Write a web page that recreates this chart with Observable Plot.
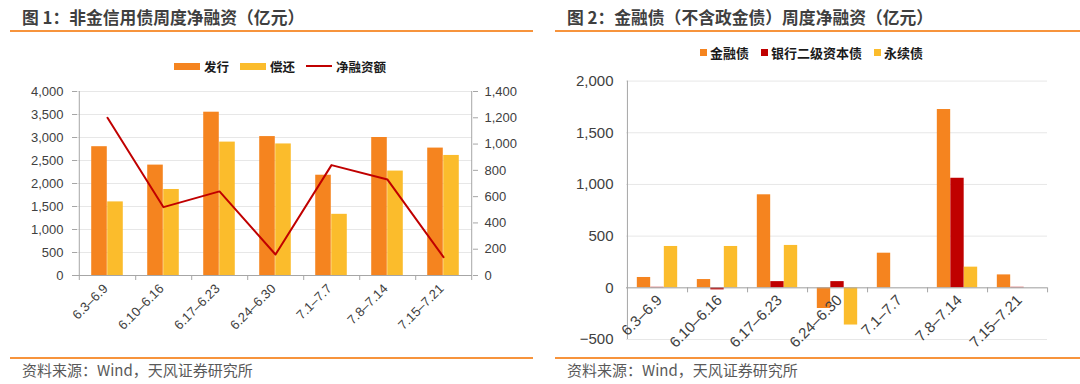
<!DOCTYPE html>
<html><head><meta charset="utf-8">
<script src="https://cdn.jsdelivr.net/npm/d3@7"></script>
<script src="https://cdn.jsdelivr.net/npm/@observablehq/plot@0.6"></script>
<style>
body{margin:0;background:#fff;}
#page{position:relative;width:1080px;height:384px;overflow:hidden;font-family:"Noto Sans CJK SC",sans-serif;}
.title{position:absolute;top:7px;font-size:16.8px;font-weight:bold;color:#3f3f3f;white-space:nowrap;line-height:20px;}
.hline{position:absolute;height:2px;background:#F7943C;}
.caption{position:absolute;top:360px;font-size:15px;color:#595959;line-height:20px;white-space:nowrap;}
.legend{position:absolute;display:flex;align-items:center;font-weight:bold;color:#1a1a1a;white-space:nowrap;}
.legend .sw{display:inline-block;}
.chart{position:absolute;}
</style></head>
<body>
<div id="page">
  <div class="title" style="left:22px">图 1：非金信用债周度净融资（亿元）</div>
  <div class="hline" style="left:10px;width:523px;top:30px"></div>
  <div class="title" style="left:567px">图 2：金融债（不含政金债）周度净融资（亿元）</div>
  <div class="hline" style="left:555px;width:525px;top:30px"></div>
  <div id="legL" class="legend" style="left:174px;top:58px;height:16px;font-size:12.5px"></div>
  <div id="legR" class="legend" style="left:700px;top:44px;height:16px;font-size:13px"></div>
  <div id="chartL" class="chart" style="left:0;top:80px"></div>
  <div id="chartR" class="chart" style="left:540px;top:70px"></div>
  <div class="hline" style="left:10px;width:523px;top:357px"></div>
  <div class="hline" style="left:555px;width:525px;top:357px"></div>
  <div class="caption" style="left:22px">资料来源：Wind，天风证券研究所</div>
  <div class="caption" style="left:567px">资料来源：Wind，天风证券研究所</div>
</div>
<script>
// ---- data ----
const cats = ["6.3–6.9","6.10–6.16","6.17–6.23","6.24–6.30","7.1–7.7","7.8–7.14","7.15–7.21"];
// Figure 1
const issue = [2800, 2400, 3550, 3020, 2180, 3000, 2770];   // 发行
const repay = [1600, 1870, 2900, 2860, 1330, 2270, 2610];   // 偿还
const net   = [1200, 520, 640, 160, 840, 730, 140];         // 净融资额
const leftTicks  = [0, 500, 1000, 1500, 2000, 2500, 3000, 3500, 4000];
const rightTicks = [0, 200, 400, 600, 800, 1000, 1200, 1400];
const legendL = ["发行", "偿还", "净融资额"];
// Figure 2
const finBond = [100, 80, 900, -200, 335, 1725, 125];       // 金融债
const tier2   = [5, -20, 60, 60, 0, 1060, 5];               // 银行二级资本债
const perp    = [400, 400, 410, -360, 0, 200, 0];           // 永续债
const rTicks  = [-500, 0, 500, 1000, 1500, 2000];
const legendR = ["金融债", "银行二级资本债", "永续债"];

// ---- styles ----
const ORANGE = "#F5841F", YELLOW = "#FBBC2C", RED = "#C00000";
const AXIS = "#a6a6a6", GRID = "#e7e7e7";
const fmt = d3.format(",");
const W = 540;

// ---- legends ----
function addLegend(id, items) {
  const el = document.getElementById(id);
  items.forEach((it, i) => {
    const sw = document.createElement("span");
    sw.className = "sw";
    sw.style.width = it.w + "px"; sw.style.height = it.h + "px";
    sw.style.background = it.color;
    sw.style.marginRight = it.gap + "px";
    const t = document.createElement("span");
    t.textContent = it.label;
    t.style.marginRight = (i < items.length - 1 ? it.after : 0) + "px";
    el.appendChild(sw); el.appendChild(t);
  });
}
addLegend("legL", [
  {label: legendL[0], color: ORANGE, w: 26, h: 7, gap: 4, after: 11},
  {label: legendL[1], color: YELLOW, w: 26, h: 7, gap: 4, after: 11},
  {label: legendL[2], color: RED, w: 26, h: 2, gap: 4, after: 11}
]);
addLegend("legR", [
  {label: legendR[0], color: ORANGE, w: 7, h: 7, gap: 3, after: 12},
  {label: legendR[1], color: RED, w: 7, h: 7, gap: 3, after: 12},
  {label: legendR[2], color: YELLOW, w: 7, h: 7, gap: 3, after: 12}
]);

// ---- left chart ----
{
  const H = 270, mt = 11, mb = 75, ml = 77, mr = 68;
  const bw = (W - ml - mr) / cats.length;
  const bar = 16;
  const k = 4000 / 1400;
  const issueData = cats.map((c, i) => ({c, v: issue[i]}));
  const repayData = cats.map((c, i) => ({c, v: repay[i]}));
  const netData = cats.map((c, i) => ({c, v: net[i]}));
  const chart = Plot.plot({
    width: W, height: H, marginTop: mt, marginBottom: mb, marginLeft: ml, marginRight: mr,
    style: {fontFamily: "'Liberation Sans', Arial, sans-serif", fontSize: "13px", color: "#404040", background: "transparent"},
    x: {domain: cats, padding: 0, axis: null},
    y: {domain: [0, 4000], axis: null},
    marks: [
      Plot.ruleY(leftTicks, {stroke: GRID}),
      Plot.barY(issueData, {x: "c", y: "v", fill: ORANGE, insetLeft: bw / 2 - bar, insetRight: bw / 2}),
      Plot.barY(repayData, {x: "c", y: "v", fill: YELLOW, insetLeft: bw / 2, insetRight: bw / 2 - bar}),
      Plot.ruleY([0], {stroke: AXIS}),
      Plot.ruleX([cats[0]], {dx: -bw / 2, stroke: AXIS}),
      Plot.ruleX([cats[cats.length - 1]], {dx: bw / 2, stroke: AXIS}),
      Plot.line(netData, {x: "c", y: d => d.v * k, stroke: RED, strokeWidth: 2}),
      Plot.axisY(leftTicks, {anchor: "left", tickSize: 5, tickPadding: 9, stroke: AXIS, tickFormat: fmt, label: null}),
      Plot.axisY(rightTicks.map(v => v * k), {anchor: "right", tickSize: 5, tickPadding: 7, stroke: AXIS, tickFormat: d => fmt(Math.round(d / k)), label: null}),
      Plot.axisX({tickSize: 5, tickFormat: () => "", dx: bw / 2, stroke: AXIS, label: null}),
      Plot.axisX([cats[0]], {tickSize: 5, tickFormat: () => "", dx: -bw / 2, stroke: AXIS, label: null}),
      Plot.text(cats, {x: d => d, frameAnchor: "bottom", text: d => d, rotate: -45, textAnchor: "end", dx: 1, dy: 14, fontSize: 13})
    ]
  });
  document.getElementById("chartL").appendChild(chart);
}

// ---- right chart ----
{
  const H = 280, mt = 10.6, mb = 11, ml = 86, mr = 33;
  const bw = (W - ml - mr) / cats.length;
  const bar = 13.5;
  const series = [
    {vals: finBond, color: ORANGE},
    {vals: tier2, color: RED},
    {vals: perp, color: YELLOW}
  ];
  const ydom = [-500, 2000];
  const zeroOffset = -(H - mt - mb) * (0 - ydom[0]) / (ydom[1] - ydom[0]);
  const barMarks = series.map((s, j) => {
    const left = bw / 2 - 1.5 * bar + j * bar;
    return Plot.barY(cats.map((c, i) => ({c, v: s.vals[i]})),
      {x: "c", y: "v", fill: s.color, insetLeft: left, insetRight: bw - left - bar});
  });
  const chart = Plot.plot({
    width: W, height: H, marginTop: mt, marginBottom: mb, marginLeft: ml, marginRight: mr,
    style: {fontFamily: "'Liberation Sans', Arial, sans-serif", fontSize: "15px", color: "#404040", background: "transparent"},
    x: {domain: cats, padding: 0, axis: null},
    y: {domain: ydom, axis: null},
    marks: [
      Plot.ruleY(rTicks, {stroke: GRID}),
      Plot.ruleX([cats[0]], {dx: -bw / 2, stroke: AXIS}),
      ...barMarks,
      Plot.ruleY([0], {stroke: AXIS}),
      Plot.axisX({tickSize: 5, tickFormat: () => "", dx: bw / 2, dy: zeroOffset, stroke: AXIS, label: null}),
      Plot.axisY(rTicks, {anchor: "left", tickSize: 0, tickPadding: 13, tickFormat: fmt, label: null}),
      Plot.text(cats, {x: d => d, y: () => 0, text: d => d, rotate: -45, textAnchor: "end", dx: 2, dy: 10, fontSize: 15})
    ]
  });
  document.getElementById("chartR").appendChild(chart);
}
</script>
</body></html>
